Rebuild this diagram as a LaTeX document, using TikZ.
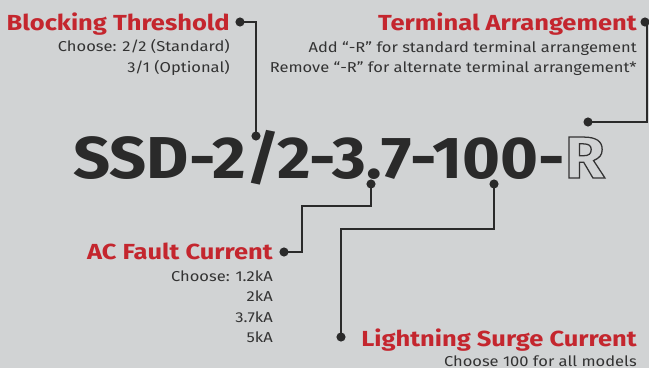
\documentclass[tikz,border=0pt]{standalone}
\usepackage{fontspec}
\setmainfont{Fira Sans}
\newfontfamily\hdfont[FakeStretch=1.17]{Fira Sans}
\newfontfamily\subfont[FakeStretch=1.15]{Fira Sans}
\newfontfamily\codefont[FakeStretch=1.1]{Fira Sans}
\usetikzlibrary{positioning,calc}
\definecolor{bgray}{HTML}{D1D3D4}
\definecolor{hdred}{HTML}{C4262E}
\definecolor{txtgray}{HTML}{333333}
\definecolor{lngray}{HTML}{2A2A2A}
\newcommand{\hollow}[1]{\special{pdf:code q 1 Tr 0.9 w 0.2 0.2 0.2 RG}#1\special{pdf:code Q}}
\tikzset{
  hdtxt/.style={anchor=base east,inner sep=0pt,text=hdred,font=\hdfont\fontsize{15.5}{18}\selectfont\bfseries},
  subtxt/.style={anchor=base east,inner sep=0pt,text=txtgray,font=\subfont\fontsize{10.2}{12}\selectfont},
  codetxt/.style={anchor=base west,inner sep=0pt,text=lngray,font=\codefont\fontsize{42}{48}\selectfont\bfseries},
  pin/.style={circle,fill=lngray,inner sep=0pt,minimum size=6.5pt},
  lead/.style={draw=lngray,line width=0.9pt}
}
\begin{document}
\begin{tikzpicture}[x=0.025cm,y=-0.025cm]
  \fill[bgray] (0,0) rectangle (649,368);
  \useasboundingbox (0,0) rectangle (649,368);

  % part number
  \node[codetxt] (code) at (73,178) {SSD-2/2-3.7-100-\hollow{R}};

  % headings and options
  \node[hdtxt] (bt) at (230,30) {Blocking Threshold};
  \node[subtxt] (bt1) at (230,51) {Choose: 2/2 (Standard)};
  \node[subtxt] (bt2) at (230,72) {3/1 (Optional)};

  \node[hdtxt] (ta) at (637,30) {Terminal Arrangement};
  \node[subtxt] (ta1) at (637,52) {Add “-R” for standard terminal arrangement};
  \node[subtxt] (ta2) at (637,72) {Remove “-R” for alternate terminal arrangement*};

  \node[hdtxt] (acf) at (273,259) {AC Fault Current};
  \node[subtxt] (acf1) at (273,281) {Choose: 1.2kA};
  \node[subtxt] (acf2) at (273,301) {2kA};
  \node[subtxt] (acf3) at (273,322) {3.7kA};
  \node[subtxt] (acf4) at (273,342) {5kA};

  \node[hdtxt] (lsc) at (637,346) {Lightning Surge Current};
  \node[subtxt] (lsc1) at (637,366) {Choose 100 for all models};

  % pins
  \node[pin] (btpin) at (240,22) {};
  \node[pin] (btend) at (256,136) {};
  \node[pin] (tapin) at (645,22) {};
  \node[pin] (taend) at (588,122) {};
  \node[pin] (acpin) at (284,252) {};
  \node[pin] (acend) at (371,184) {};
  \node[pin] (lspin) at (341,337) {};
  \node[pin] (lsend) at (494,184) {};

  \coordinate (tabend) at (647,22);
  \coordinate (acbend) at (302,206);
  \coordinate (lsbend) at (341,229);

  % leader lines
  \draw[lead] (btpin.center) -| (btend.center);
  \draw[lead] (tapin.center) -- (tabend) |- (taend.center);
  \draw[lead] (acpin.center) -| (acbend) -| (acend.center);
  \draw[lead] (lsend.center) |- (lsbend) -- (lspin.center);
\end{tikzpicture}
\end{document}
